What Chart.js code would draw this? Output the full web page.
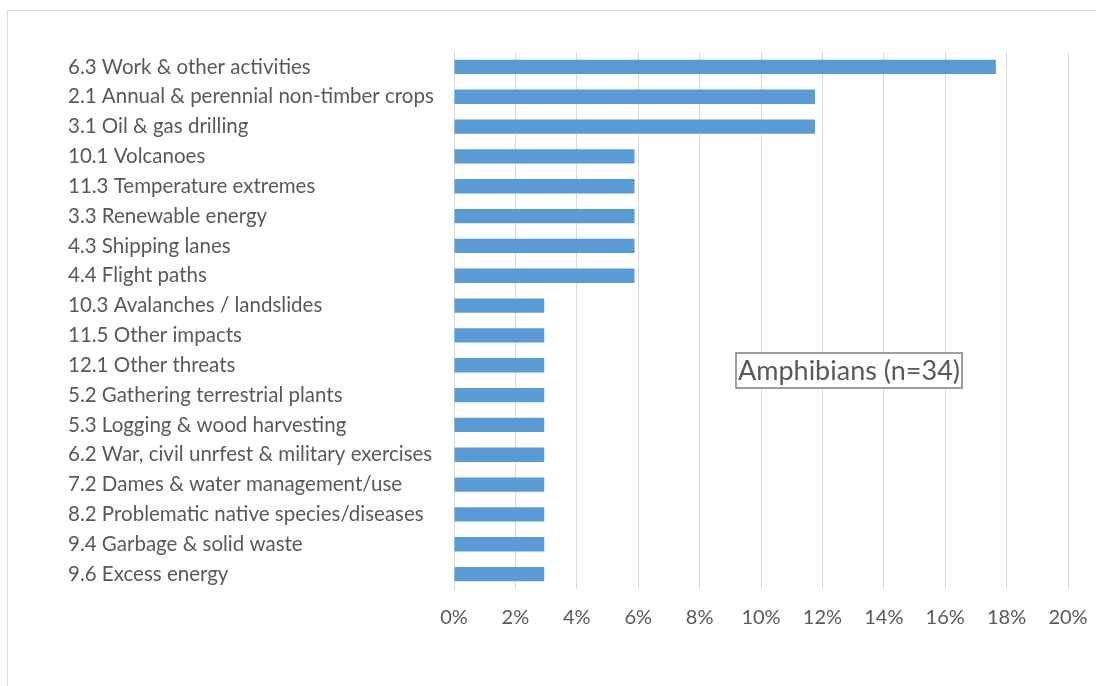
<!DOCTYPE html>
<html>
<head>
<meta charset="utf-8">
<script src="https://cdn.jsdelivr.net/npm/chart.js@4"></script>
<style>
	body { margin: 0; background: #fff; overflow: hidden; }
	#frame { position: absolute; left: 7px; top: 10px; width: 1200px; height: 800px; border: 1px solid #d9d9d9; }
	#wrap { position: absolute; left: 0; top: 0; width: 1096px; height: 686px; }
</style>
</head>
<body>
<div id="frame"></div>
<div id="wrap"><canvas id="chart" width="1096" height="686"></canvas></div>
<script>

var threats = [
	"6.3 Work & other activities",
	"2.1 Annual & perennial non-timber crops",
	"3.1 Oil & gas drilling",
	"10.1 Volcanoes",
	"11.3 Temperature extremes",
	"3.3 Renewable energy",
	"4.3 Shipping lanes",
	"4.4 Flight paths",
	"10.3 Avalanches / landslides",
	"11.5 Other impacts",
	"12.1 Other threats",
	"5.2 Gathering terrestrial plants",
	"5.3 Logging & wood harvesting",
	"6.2 War, civil unrfest & military exercises",
	"7.2 Dames & water management/use",
	"8.2 Problematic native species/diseases",
	"9.4 Garbage & solid waste",
	"9.6 Excess energy"
];

// percent of species (n=34)
var shares = [17.65, 11.76, 11.76, 5.88, 5.88, 5.88, 5.88, 5.88,
	2.94, 2.94, 2.94, 2.94, 2.94, 2.94, 2.94, 2.94, 2.94, 2.94];

var xTicks = ["0%", "2%", "4%", "6%", "8%", "10%", "12%", "14%", "16%", "18%", "20%"];

var boxText = "Amphibians (n=34)";

var textFont = "Lato, 'Open Sans', sans-serif";

// the little text box inside the plot
var text_box = {
	id: 'text_box',
	afterDraw: function(chart){
		var ctx = chart.ctx;
		ctx.save();
		ctx.font = "27px " + textFont;
		ctx.textBaseline = "middle";
		ctx.textAlign = "left";
		var w = ctx.measureText(boxText).width;
		var x = 736, y = 353, h = 35;
		ctx.fillStyle = "#ffffff";
		ctx.fillRect(x, y, w + 4, h);
		ctx.strokeStyle = "#7f7f7f";
		ctx.lineWidth = 1.5;
		ctx.strokeRect(x, y, w + 4, h);
		ctx.fillStyle = "#595959";
		ctx.fillText(boxText, x + 2, y + h / 2 + 1);
		ctx.restore();
	}
};

var chart_bar = new Chart(document.getElementById('chart'), {
	type: 'bar',
	data: {
		labels: threats,
		datasets: [{
			data: shares,
			backgroundColor: "#5B9BD5",
			barPercentage: 0.48,
			categoryPercentage: 1.0
		}]
	},
	options: {
		indexAxis: 'y',
		responsive: false,
		animation: false,
		layout: { padding: { top: 52, right: 28, bottom: 0, left: 68 } },
		plugins: { legend: { display: false }, tooltip: { enabled: false } },
		scales: {
			x: {
				min: 0,
				max: 20,
				ticks: {
					stepSize: 2,
					padding: 0,
					color: "#595959",
					// tall line height pushes the labels down without widening the side padding
					font: { size: 20, family: textFont, lineHeight: '58px' },
					callback: function(v, i){ return xTicks[i]; }
				},
				grid: { color: "#d9d9d9", drawTicks: false },
				border: { display: false },
				afterFit: function(scale){ scale.height = 97; }
			},
			y: {
				ticks: {
					padding: 12,
					crossAlign: 'far',
					color: "#595959",
					font: { size: 20.5, family: textFont }
				},
				grid: { display: false },
				border: { display: true, color: "#d9d9d9" },
				afterFit: function(scale){ scale.width = 386; }
			}
		}
	},
	plugins: [text_box]
});
</script>
</body>
</html>
